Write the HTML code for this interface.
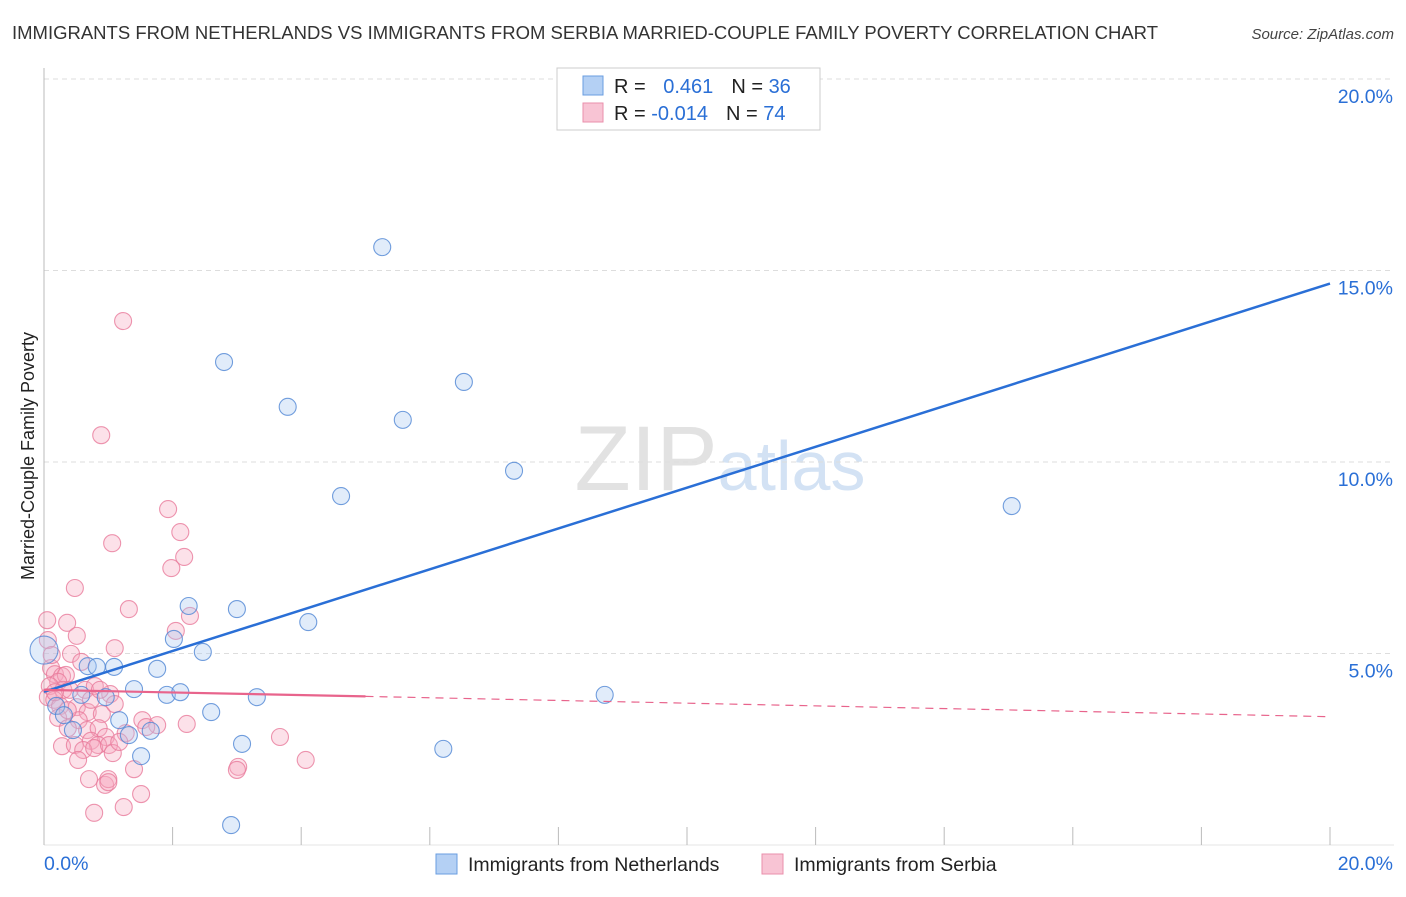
<!DOCTYPE html>
<html><head><meta charset="utf-8"><style>
body{margin:0;background:#fff;font-family:"Liberation Sans",sans-serif;}
svg text{font-family:"Liberation Sans",sans-serif;}
</style></head><body>
<svg id="chart" width="1406" height="892" xmlns="http://www.w3.org/2000/svg">
<text x="12" y="39" font-size="18" fill="#333" textLength="1146" lengthAdjust="spacingAndGlyphs">IMMIGRANTS FROM NETHERLANDS VS IMMIGRANTS FROM SERBIA MARRIED-COUPLE FAMILY POVERTY CORRELATION CHART</text>
<text x="1394" y="39" font-size="15" fill="#444" text-anchor="end" font-style="italic">Source: ZipAtlas.com</text>
<text x="720" y="490" font-size="92" fill="#e2e2e2" text-anchor="middle" font-family="Liberation Serif">ZIP<tspan fill="#d3e2f4" font-family="Liberation Sans" font-size="70">atlas</tspan></text>
<g id="grid"></g><g id="axes"></g><g id="pts"></g><g id="trend"></g>
<text transform="translate(34,456) rotate(-90)" font-size="18" fill="#222" text-anchor="middle">Married-Couple Family Poverty</text>
<g>
<rect x="557" y="68" width="263" height="62" fill="#fff" stroke="#ccc"/>
<rect x="583" y="76" width="20" height="19" fill="#b4d0f4" stroke="#6a9ee0"/>
<rect x="583" y="103" width="20" height="19" fill="#f8c4d4" stroke="#ea8fab"/>
<text x="614" y="93" font-size="20" fill="#222">R = <tspan fill="#2a6fd6" dx="12">0.461</tspan><tspan dx="18" fill="#222">N = </tspan><tspan fill="#2a6fd6">36</tspan></text>
<text x="614" y="120" font-size="20" fill="#222">R = <tspan fill="#2a6fd6" dx="0">-0.014</tspan><tspan dx="18" fill="#222">N = </tspan><tspan fill="#2a6fd6">74</tspan></text>
</g>
<g>
<rect x="436" y="854" width="21" height="20" fill="#b4d0f4" stroke="#6a9ee0"/>
<text x="468" y="871" font-size="19.5" fill="#222">Immigrants from Netherlands</text>
<rect x="762" y="854" width="21" height="20" fill="#f8c4d4" stroke="#ea8fab"/>
<text x="794" y="871" font-size="19.5" fill="#222">Immigrants from Serbia</text>
</g>
</svg>
<script>
const xTicks=[0,20];
const yTicks=[5,10,15,20];
const blueX=[5.26,2.80,3.79,6.53,5.58,7.31,4.62,15.05,2.25,3.00,4.11,2.02,2.47,0,0.68,0.82,1.09,1.76,1.40,0.58,0.96,1.91,2.12,3.31,8.72,0.19,0.31,2.60,1.17,0.45,1.32,1.66,3.08,6.21,1.51,2.91];
const blueY=[15.61,12.61,11.44,12.09,11.10,9.77,9.11,8.85,6.24,6.16,5.82,5.38,5.04,5.09,4.67,4.65,4.65,4.60,4.07,3.92,3.86,3.92,3.99,3.86,3.92,3.63,3.39,3.47,3.26,3.00,2.87,2.98,2.64,2.51,2.32,0.52];
const pinkX=[1.23,0.89,1.93,2.12,1.06,2.18,1.98,0.48,1.32,0.05,0.36,2.27,2.05,0.51,1.10,0.06,0.42,0.58,0.11,0.17,0.28,0.34,0.22,0.09,0.30,0.40,0.64,0.79,1.03,0.06,0.16,0.25,0.51,0.68,0.90,1.10,0.73,0.22,0.54,0.37,0.67,0.85,0.96,1.27,1.53,1.76,2.22,0.28,0.48,0.73,0.84,0.61,0.78,1.01,1.07,3.67,4.07,0.53,1.40,0.70,0.95,1.00,1.00,1.51,1.24,0.78,3.02,3.00,1.59,0.12,0.17,0.37,1.17,0.87];
const pinkY=[13.68,10.70,8.77,8.17,7.88,7.52,7.23,6.71,6.16,5.87,5.80,5.98,5.59,5.46,5.14,5.35,4.99,4.78,4.62,4.46,4.41,4.44,4.26,4.15,4.05,4.05,4.05,4.15,3.94,3.86,3.79,3.63,3.60,3.47,3.42,3.68,3.79,3.32,3.26,3.05,3.00,3.05,2.82,2.92,3.26,3.13,3.16,2.58,2.61,2.72,2.61,2.48,2.53,2.61,2.40,2.82,2.22,2.22,1.98,1.72,1.57,1.72,1.64,1.33,0.99,0.84,2.04,1.96,3.08,4.96,3.99,3.52,2.69,4.05];
const blueTrend=[[0,4.00],[20,14.66]];
const pinkTrend=[[0,4.05],[5,3.88],[20,3.35]];
const NS='http://www.w3.org/2000/svg';
const X=v=>44+v*64.3, Y=v=>845-v*38.3;
function mk(p,t,a){const e=document.createElementNS(NS,t);for(const k in a)e.setAttribute(k,a[k]);p.appendChild(e);return e;}
const grid=document.getElementById('grid'),axes=document.getElementById('axes'),pts=document.getElementById('pts'),tr=document.getElementById('trend');
yTicks.forEach(t=>{
 const l=mk(grid,'line',{x1:44,x2:1394,y1:Y(t),y2:Y(t),stroke:'#ddd','stroke-dasharray':'5,4'});
 
 
 const tx=mk(axes,'text',{x:1393,y:Y(t)+24,'font-size':19.5,fill:'#2a6fd6','text-anchor':'end'});
 tx.textContent=t.toFixed(1)+'%';
 
 
});
const ax=mk(axes,'line',{x1:44,x2:44,y1:68,y2:845,stroke:'#bbb'});


const bx=mk(axes,'line',{x1:44,x2:1394,y1:845,y2:845,stroke:'#e4e4e4'});


for(let i=0;i<=10;i++){const tk=mk(axes,'line',{x1:X(i*2),x2:X(i*2),y1:827,y2:845,stroke:'#bbb'});
 
 }
xTicks.forEach((t,i)=>{const tx=mk(axes,'text',{x:i?1393:44,y:870,'font-size':19.5,fill:'#2a6fd6','text-anchor':i?'end':'start'});
 tx.textContent=t.toFixed(1)+'%';
 
 });
function dots(xs,ys,fill,stroke,name){xs.forEach((x,i)=>{const r=(x===0&&name==='blue-point')?14:8.5;
 const c=mk(pts,'circle',{cx:X(x),cy:Y(ys[i]),r:r,fill:fill,'fill-opacity':0.35,stroke:stroke,'stroke-width':1.1,'stroke-opacity':0.8});
 
 });}
dots(pinkX,pinkY,'#f5a9c0','#e87a9b','pink-point');
dots(blueX,blueY,'#a8c8f0','#4f86d4','blue-point');
const b=mk(tr,'line',{x1:X(blueTrend[0][0]),y1:Y(blueTrend[0][1]),x2:X(blueTrend[1][0]),y2:Y(blueTrend[1][1]),stroke:'#2a6fd6','stroke-width':2.5});


const p1=mk(tr,'line',{x1:X(pinkTrend[0][0]),y1:Y(pinkTrend[0][1]),x2:X(pinkTrend[1][0]),y2:Y(pinkTrend[1][1]),stroke:'#e8648c','stroke-width':2.2});


const p2=mk(tr,'line',{x1:X(pinkTrend[1][0]),y1:Y(pinkTrend[1][1]),x2:X(pinkTrend[2][0]),y2:Y(pinkTrend[2][1]),stroke:'#e8648c','stroke-width':1.2,'stroke-dasharray':'8,6'});


</script>
</body></html>
